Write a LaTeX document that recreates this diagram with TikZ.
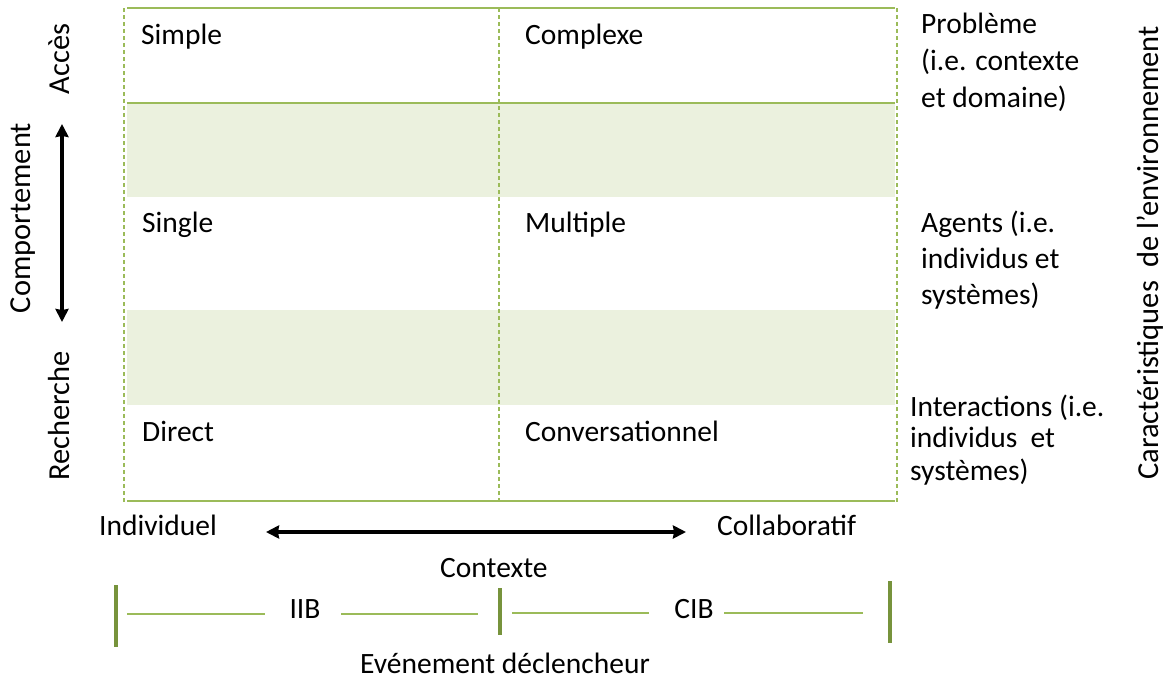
\documentclass[tikz,border=0pt]{standalone}
\usepackage{fontspec}
\setmainfont{Carlito}
\usetikzlibrary{arrows.meta}
\definecolor{gline}{HTML}{9BBB59}
\definecolor{gbar}{HTML}{77933C}
\definecolor{gband}{HTML}{EBF1DE}
\begin{document}
\begin{tikzpicture}[x=1pt,y=-1pt,
  txt/.style={inner sep=0pt, font=\fontsize{29.5}{37}\selectfont, anchor=base west},
  vtxt/.style={inner sep=0pt, font=\fontsize{30.5}{37}\selectfont, rotate=90, anchor=base},
  solidline/.style={draw=gline, line width=2pt},
  dashline/.style={draw=gline, line width=1.3pt, dash pattern=on 4pt off 3pt},
  thinline/.style={draw=gline, line width=1.3pt},
  barline/.style={draw=gbar, line width=4pt},
  bigarrow/.style={{Stealth[length=13pt,width=13pt,inset=1pt]}-{Stealth[length=13pt,width=13pt,inset=1pt]}, line width=3.5pt}
]
\useasboundingbox (0,0) rectangle (1164,680);
\fill[white] (0,0) rectangle (1164,680);
% bands
\fill[gband] (127,103) rectangle (895,197);
\fill[gband] (127,310) rectangle (895,405);
% grid
\draw[solidline] (127,8) -- (895,8);
\draw[solidline] (127,103) -- (895,103);
\draw[solidline] (127,501) -- (895,501);
\draw[dashline] (124,8) -- (124,503);
\draw[dashline] (499,8) -- (499,503);
\draw[dashline] (897,8) -- (897,503);
% cell texts
\node[txt] (simple) at (141,44) {Simple};
\node[txt] (complexe) at (525,44) {Complexe};
\node[txt] (single) at (142,232) {Single};
\node[txt] (multiple) at (525,232) {Multiple};
\node[txt] (direct) at (142,441) {Direct};
\node[txt] (conv) at (525,441) {Conversationnel};
% right texts
\node[txt] (p1) at (921,33) {Problème};
\node[txt] (p2) at (921,70) {(i.e. contexte};
\node[txt] (p3) at (921,107) {et domaine)};
\node[txt] (a1) at (921,232) {Agents (i.e.};
\node[txt] (a2) at (921,268) {individus et};
\node[txt] (a3) at (921,304) {systèmes)};
\node[txt] (i1) at (910,416) {Interactions (i.e.};
\node[txt] (i2) at (910,447) {individus\ \ et};
\node[txt] (i3) at (910,480) {systèmes)};
\node[vtxt] (carac) at (1158,253) {Caractéristiques\ \ de l’environnement};
% left texts
\node[vtxt] (acces) at (69,59) {Accès};
\node[vtxt] (comport) at (30,218) {Comportement};
\node[vtxt] (recherche) at (69,416) {Recherche};
\coordinate (vtop) at (62,124);
\coordinate (vbot) at (62,322);
\draw[bigarrow] (vtop) -- (vbot);
% bottom
\node[txt] (indiv) at (99,535) {Individuel};
\node[txt] (collab) at (717,535) {Collaboratif};
\coordinate (hl) at (266,532);
\coordinate (hr) at (686,532);
\draw[bigarrow] (hl) -- (hr);
\node[txt] (contexte) at (440,577) {Contexte};
\node[txt, anchor=base] (iib) at (305,618) {IIB};
\node[txt, anchor=base] (cib) at (694,618) {CIB};
\node[txt] (evt) at (360,673) {Evénement déclencheur};
\coordinate (b1t) at (116,585); \coordinate (b1b) at (116,647);
\coordinate (b2t) at (500,588); \coordinate (b2b) at (500,635);
\coordinate (b3t) at (890,581); \coordinate (b3b) at (890,643);
\draw[barline] (b1t) -- (b1b);
\draw[barline] (b2t) -- (b2b);
\draw[barline] (b3t) -- (b3b);
\coordinate (l1a) at (127,614); \coordinate (l1b) at (265,614);
\coordinate (l2a) at (341,614); \coordinate (l2b) at (478,614);
\coordinate (l3a) at (512,613); \coordinate (l3b) at (649,613);
\coordinate (l4a) at (724,613); \coordinate (l4b) at (863,613);
\draw[thinline] (l1a) -- (l1b);
\draw[thinline] (l2a) -- (l2b);
\draw[thinline] (l3a) -- (l3b);
\draw[thinline] (l4a) -- (l4b);
\end{tikzpicture}
\end{document}
